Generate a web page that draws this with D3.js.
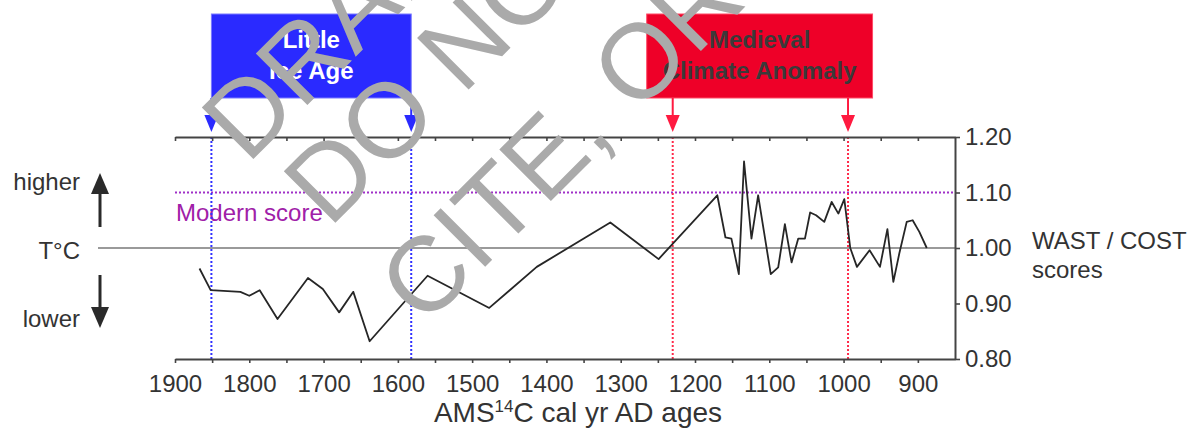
<!DOCTYPE html>
<html>
<head>
<meta charset="utf-8">
<script src="https://cdn.jsdelivr.net/npm/d3@7"></script>
<style>
  html, body { margin: 0; padding: 0; background: #fff; }
  svg { display: block; font-family: "Liberation Sans", Arial, sans-serif; }
</style>
</head>
<body>
<svg id="chart" width="1198" height="431"></svg>
<script>
// ---- data ----
const years = [1867, 1852, 1812, 1800, 1786, 1762, 1721, 1701, 1679, 1660, 1638, 1560, 1477, 1413, 1314, 1249, 1170, 1159, 1151, 1141, 1134, 1124, 1115, 1098, 1088, 1079, 1070, 1061, 1052, 1045, 1037, 1026, 1016, 1007, 999, 991, 982, 965, 951, 941, 933, 925, 915, 907, 898, 888];
const scores = [0.963, 0.924, 0.921, 0.914, 0.924, 0.872, 0.946, 0.926, 0.884, 0.921, 0.832, 0.950, 0.892, 0.966, 1.046, 0.980, 1.095, 1.019, 1.017, 0.953, 1.156, 1.017, 1.095, 0.953, 0.965, 1.043, 0.974, 1.017, 1.017, 1.064, 1.059, 1.047, 1.083, 1.062, 1.088, 1.000, 0.966, 0.996, 0.966, 1.034, 0.939, 0.990, 1.047, 1.050, 1.029, 1.000];
const xTickValues = [1900, 1850, 1800, 1750, 1700, 1650, 1600, 1550, 1500, 1450, 1400, 1350, 1300, 1250, 1200, 1150, 1100, 1050, 1000, 950, 900];
const yTickValues = [0.80, 0.90, 1.00, 1.10, 1.20];
const modernScore = 1.10;
const referenceScore = 1.00;
const liaMarkers = [1851, 1582];          // Little Ice Age arrows
const liaBox = [1851, 1582];
const mcaMarkers = [1230, 994];           // Medieval Climate Anomaly arrows
const mcaBox = [1265, 961];
const liaLabel = ["Little", "Ice Age"];
const mcaLabel = ["Medieval", "Climate Anomaly"];
const watermarkLines = ["DRAFT", "DO NOT", "CITE, OR QUOTE"];

// ---- layout ----
const svg = d3.select("#chart");
const x = d3.scaleLinear().domain([1900, 850]).range([175, 955]);
const y = d3.scaleLinear().domain([0.8, 1.2]).range([359, 137]);
const axisColor = "#444";
const textColor = "#333";
const font = 24;

// reference (T°C) line
svg.append("line")
  .attr("x1", 98).attr("x2", x(850))
  .attr("y1", y(referenceScore)).attr("y2", y(referenceScore))
  .attr("stroke", "#9a9a9a").attr("stroke-width", 2.2);

// modern score line
svg.append("line")
  .attr("x1", x(1900)).attr("x2", x(850))
  .attr("y1", y(modernScore)).attr("y2", y(modernScore))
  .attr("stroke", "#a030c8").attr("stroke-width", 2.2)
  .attr("stroke-dasharray", "2,2");
svg.append("text")
  .attr("x", x(1900) + 1).attr("y", y(modernScore) + 28)
  .attr("fill", "#a020a8").attr("font-size", font)
  .text("Modern score");

// vertical dotted markers
svg.selectAll(".lia-v").data(liaMarkers).enter().append("line")
  .attr("x1", d => x(d)).attr("x2", d => x(d))
  .attr("y1", y(1.2)).attr("y2", y(0.8))
  .attr("stroke", "#3030ff").attr("stroke-width", 2)
  .attr("stroke-dasharray", "2,2");
svg.selectAll(".mca-v").data(mcaMarkers).enter().append("line")
  .attr("x1", d => x(d)).attr("x2", d => x(d))
  .attr("y1", y(1.2)).attr("y2", y(0.8))
  .attr("stroke", "#ff2a4a").attr("stroke-width", 2)
  .attr("stroke-dasharray", "2,2");

// data line
const line = d3.line().x((d, i) => x(years[i])).y(d => y(d));
svg.append("path")
  .datum(scores)
  .attr("d", line)
  .attr("fill", "none")
  .attr("stroke", "#262626")
  .attr("stroke-width", 1.8)
  .attr("stroke-linejoin", "round");

// axes
const gBottom = svg.append("g").attr("transform", `translate(0,${y(0.8)})`)
  .call(d3.axisBottom(x).tickValues(xTickValues).tickSize(4).tickSizeOuter(0).tickPadding(12)
    .tickFormat(d => d % 100 === 0 ? d : ""));
const gTop = svg.append("g").attr("transform", `translate(0,${y(1.2)})`)
  .call(d3.axisBottom(x).tickValues(xTickValues).tickSize(4).tickSizeOuter(0).tickFormat(""));
const gRight = svg.append("g").attr("transform", `translate(${x(850)},0)`)
  .call(d3.axisRight(y).tickValues(yTickValues).tickSize(5).tickSizeOuter(0).tickPadding(5)
    .tickFormat(d3.format(".2f")));
[gBottom, gTop, gRight].forEach(g => {
  g.selectAll("path.domain").attr("stroke", axisColor).attr("stroke-width", 2);
  g.selectAll(".tick line").attr("stroke", axisColor).attr("stroke-width", 1.6);
  g.selectAll(".tick text").attr("fill", textColor).attr("font-size", font)
    .attr("font-family", "'Liberation Sans', Arial, sans-serif");
});

// axis titles
const xt = svg.append("text").attr("x", 578).attr("y", 422)
  .attr("text-anchor", "middle").attr("fill", textColor).attr("font-size", 28);
xt.append("tspan").text("AMS");
xt.append("tspan").attr("font-size", 17).attr("dy", -10).text("14");
xt.append("tspan").attr("dy", 10).text("C cal yr AD ages");

svg.append("text").attr("x", 1032).attr("y", 249).attr("fill", textColor)
  .attr("font-size", font).text("WAST / COST");
svg.append("text").attr("x", 1032).attr("y", 278).attr("fill", textColor)
  .attr("font-size", font).text("scores");

// left annotations
svg.append("text").attr("x", 80).attr("y", 190).attr("text-anchor", "end")
  .attr("fill", textColor).attr("font-size", font).text("higher");
svg.append("text").attr("x", 80).attr("y", 259).attr("text-anchor", "end")
  .attr("fill", textColor).attr("font-size", font).text("T°C");
svg.append("text").attr("x", 80).attr("y", 327).attr("text-anchor", "end")
  .attr("fill", textColor).attr("font-size", font).text("lower");
// up arrow
svg.append("line").attr("x1", 100).attr("x2", 100).attr("y1", 227).attr("y2", 190)
  .attr("stroke", "#2a2a2a").attr("stroke-width", 3);
svg.append("path").attr("d", "M100,173 L109,194 L91,194 Z").attr("fill", "#2a2a2a");
// down arrow
svg.append("line").attr("x1", 100).attr("x2", 100).attr("y1", 275).attr("y2", 310)
  .attr("stroke", "#2a2a2a").attr("stroke-width", 3);
svg.append("path").attr("d", "M100,328 L109,307 L91,307 Z").attr("fill", "#2a2a2a");

// period boxes
const boxTop = 14, boxBottom = 98, arrowTip = 132;
function periodBox(range, markers, fill, stroke, txtFill, label, sep) {
  svg.append("rect")
    .attr("x", x(range[0])).attr("y", boxTop)
    .attr("width", x(range[1]) - x(range[0])).attr("height", boxBottom - boxTop)
    .attr("fill", fill).attr("stroke", sep).attr("stroke-width", 1);
  markers.forEach(m => {
    svg.append("line").attr("x1", x(m)).attr("x2", x(m))
      .attr("y1", boxBottom).attr("y2", arrowTip - 12)
      .attr("stroke", stroke).attr("stroke-width", 2);
    svg.append("path")
      .attr("d", `M${x(m)},${arrowTip} L${x(m) + 7},${arrowTip - 17} L${x(m) - 7},${arrowTip - 17} Z`)
      .attr("fill", stroke);
  });
  const cx = (x(range[0]) + x(range[1])) / 2;
  label.forEach((t, i) => {
    svg.append("text").attr("x", cx).attr("y", 48 + i * 31)
      .attr("text-anchor", "middle").attr("font-weight", "bold")
      .attr("font-size", font).attr("fill", txtFill).text(t);
  });
}
periodBox(liaBox, liaMarkers, "#2a2aff", "#2a2aff", "#ffffff", liaLabel, "#7a7aff");
periodBox(mcaBox, mcaMarkers, "#ee0028", "#ff1a40", "#3a3a3a", mcaLabel, "#ff4a66");

// watermark
const wm = svg.append("g").attr("transform", "translate(424,328) rotate(-45)");
const wmOffsets = [[-10, -240], [3, -137], [0, 0]];
watermarkLines.forEach((t, i) => {
  wm.append("text").attr("x", wmOffsets[i][0]).attr("y", wmOffsets[i][1])
    .attr("font-size", 106).attr("fill", "#aaaaaa").text(t);
});
</script>
</body>
</html>
